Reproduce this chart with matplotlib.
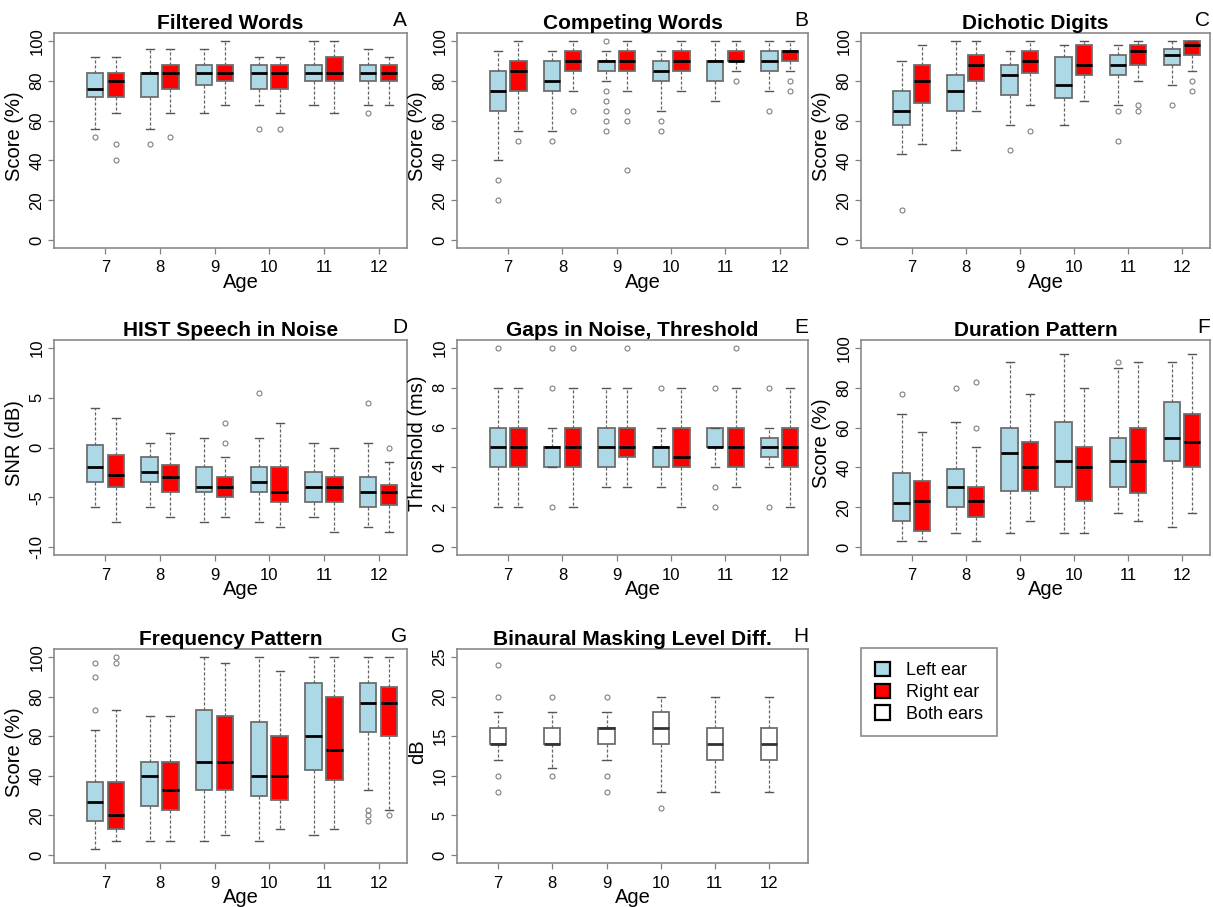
import matplotlib
matplotlib.use("Agg")
import matplotlib.pyplot as plt
from matplotlib.patches import Patch

plt.rcParams['font.family'] = ['Liberation Sans', 'DejaVu Sans']

ages = [7, 8, 9, 10, 11, 12]
age_labels = ["7", "8", "9", "10", "11", "12"]

# stats per age: [lower whisker, Q1, median, Q3, upper whisker]
# A: Filtered Words
fw_left = [[56, 72, 76, 84, 92], [56, 72, 84, 84, 96], [64, 78, 84, 88, 96],
           [68, 76, 84, 88, 92], [68, 80, 84, 88, 100], [68, 80, 84, 88, 96]]
fw_left_out = [[52], [48], [], [56], [], [64]]
fw_right = [[64, 72, 80, 84, 92], [64, 76, 84, 88, 96], [68, 80, 84, 88, 100],
            [64, 76, 84, 88, 92], [64, 80, 84, 92, 100], [68, 80, 84, 88, 92]]
fw_right_out = [[48, 40], [52], [], [56], [], []]

# B: Competing Words
cw_left = [[40, 65, 75, 85, 95], [55, 75, 80, 90, 95], [80, 85, 90, 90, 95],
           [65, 80, 85, 90, 95], [70, 80, 90, 90, 100], [75, 85, 90, 95, 100]]
cw_left_out = [[30, 20], [50], [100, 75, 70, 65, 60, 55], [60, 55], [], [65]]
cw_right = [[55, 75, 85, 90, 100], [75, 85, 90, 95, 100], [75, 85, 90, 95, 100],
            [75, 85, 90, 95, 100], [85, 90, 90, 95, 100], [85, 90, 95, 95, 100]]
cw_right_out = [[50], [65], [65, 60, 35], [], [80], [80, 75]]

# C: Dichotic Digits
dd_left = [[43, 58, 65, 75, 90], [45, 65, 75, 83, 100], [58, 73, 83, 88, 95],
           [58, 71.5, 78, 92, 98], [68, 83, 88, 93, 98], [78, 88, 93, 96, 100]]
dd_left_out = [[15], [], [45], [], [65, 50], [68]]
dd_right = [[48, 69, 80, 88, 98], [65, 80, 88, 93, 100], [68, 84, 90, 95, 100],
            [70, 83, 88, 98, 100], [80, 88, 95, 98, 100], [85, 93, 98, 100, 100]]
dd_right_out = [[], [], [55], [], [68, 65], [80, 75]]

# D: HIST Speech in Noise
hist_left = [[-6, -3.5, -2, 0.25, 4], [-6, -3.5, -2.5, -1, 0.5], [-7.5, -4.5, -4, -2, 1],
             [-7.5, -4.5, -3.5, -2, 1], [-7, -5.5, -4, -2.5, 0.5], [-8, -6, -4.5, -3, 0.5]]
hist_left_out = [[], [], [], [5.5], [], [4.5]]
hist_right = [[-7.5, -4, -2.75, -0.75, 3], [-7, -4.5, -3, -1.75, 1.5], [-7, -5, -4, -3, -1],
              [-8, -5.5, -4.5, -2, 2.5], [-8.5, -5.5, -4, -3, 0], [-8.5, -5.75, -4.5, -3.75, -1.5]]
hist_right_out = [[], [], [2.5, 0.5], [], [], [0]]

# E: Gaps in Noise, Threshold
gin_left = [[2, 4, 5, 6, 8], [4, 4, 5, 5, 6], [3, 4, 5, 6, 8],
            [3, 4, 5, 5, 6], [4, 5, 5, 6, 6], [4, 4.5, 5, 5.5, 6]]
gin_left_out = [[10], [10, 8, 2], [], [8], [8, 3, 2], [8, 2]]
gin_right = [[2, 4, 5, 6, 8], [2, 4, 5, 6, 8], [3, 4.5, 5, 6, 8],
             [2, 4, 4.5, 6, 8], [3, 4, 5, 6, 8], [2, 4, 5, 6, 8]]
gin_right_out = [[], [10], [10], [], [10], []]

# F: Duration Pattern
dp_left = [[3, 13, 22, 37, 67], [7, 20, 30, 39, 63], [7, 28, 47, 60, 93],
           [7, 30, 43, 63, 97], [17, 30, 43, 55, 90], [10, 43, 55, 73, 93]]
dp_left_out = [[77], [80], [], [], [93], []]
dp_right = [[3, 8, 23, 33, 58], [3, 15, 23, 30, 50], [13, 28, 40, 53, 77],
            [7, 23, 40, 50, 80], [13, 27, 43, 60, 93], [17, 40, 53, 67, 97]]
dp_right_out = [[], [60, 83], [], [], [], []]

# G: Frequency Pattern
fp_left = [[3, 17, 27, 37, 63], [7, 25, 40, 47, 70], [7, 33, 47, 73, 100],
           [7, 30, 40, 67, 100], [10, 43, 60, 87, 100], [33, 62, 77, 87, 100]]
fp_left_out = [[97, 90, 73], [], [], [], [], [23, 20, 17]]
fp_right = [[7, 13, 20, 37, 73], [7, 23, 33, 47, 70], [10, 33, 47, 70, 97],
            [13, 28, 40, 60, 93], [13, 38, 53, 80, 100], [23, 60, 77, 85, 100]]
fp_right_out = [[100, 97], [], [], [], [], [20]]

# H: Binaural Masking Level Difference (both ears)
mld_both = [[12, 14, 14, 16, 18], [11, 14, 14, 16, 18], [12, 14, 16, 16, 18],
            [8, 14, 16, 18, 20], [8, 12, 14, 16, 20], [8, 12, 14, 16, 20]]
mld_both_out = [[24, 20, 10, 8], [20, 10], [20, 10, 8], [6], [], []]

LEFT_COLOR = "#ADD8E6"
RIGHT_COLOR = "#FF0000"
EDGE = "#6e6e6e"

W, H = 1213, 907
fig = plt.figure(figsize=(W / 100, H / 100), dpi=100)


def make_axes(x0, x1, y0, y1):
    return fig.add_axes([x0 / W, 1 - y1 / H, (x1 - x0) / W, (y1 - y0) / H])


def to_stats(rows, outs):
    return [dict(whislo=r[0], q1=r[1], med=r[2], q3=r[3], whishi=r[4], fliers=o)
            for r, o in zip(rows, outs)]


def draw_boxes(ax, rows, outs, positions, color, medcolor="black"):
    ax.bxp(to_stats(rows, outs), positions=positions, widths=0.3, capwidths=0.15,
           patch_artist=True, manage_ticks=False,
           boxprops=dict(facecolor=color, edgecolor=EDGE, linewidth=1.3),
           medianprops=dict(color=medcolor, linewidth=2.0, solid_capstyle="butt"),
           whiskerprops=dict(color="#666666", linewidth=0.9, linestyle=(0, (2.5, 1.5))),
           capprops=dict(color="#555555", linewidth=1.0),
           flierprops=dict(marker="o", markerfacecolor="none", markeredgecolor="#808080",
                           markersize=3.6, markeredgewidth=0.8))


def style(ax, title, letter, ylabel, ylim, yticks, xlim, agex=0.53):
    ax.set_xlim(*xlim)
    ax.set_ylim(*ylim)
    ax.set_xticks(ages)
    ax.set_xticklabels(age_labels)
    ax.set_yticks(yticks)
    ax.set_yticklabels([str(v) for v in yticks], rotation=90, va="center")
    ax.tick_params(axis="both", labelsize=12, length=4, width=0.9, color="#808080")
    ax.tick_params(axis="x", pad=5)
    ax.tick_params(axis="y", pad=3)
    for s in ax.spines.values():
        s.set_color("#8a8a8a")
        s.set_linewidth(1.2)
    ax.set_title(title, fontsize=15, fontweight="bold", pad=3)
    ax.text(1.0, 1.012, letter, transform=ax.transAxes, ha="right", va="bottom", fontsize=15)
    ax.set_xlabel("Age", fontsize=14.5)
    ax.xaxis.set_label_coords(agex, -0.115)
    ax.xaxis.label.set_va("top")
    ax.set_ylabel(ylabel, fontsize=14.5)
    ax.yaxis.set_label_coords(-0.112, 0.52)
    ax.yaxis.label.set_va("center")


cols = [(54, 407), (457, 808), (861, 1210)]
rows_y = [(33, 248), (340, 555), (649, 863)]
pairs_xlim = (6.06, 12.52)
left_pos = [a - 0.19 for a in ages]
right_pos = [a + 0.19 for a in ages]

panels = [
    ("Filtered Words", "A", "Score (%)", (-4, 104), [0, 20, 40, 60, 80, 100],
     fw_left, fw_left_out, fw_right, fw_right_out),
    ("Competing Words", "B", "Score (%)", (-4, 104), [0, 20, 40, 60, 80, 100],
     cw_left, cw_left_out, cw_right, cw_right_out),
    ("Dichotic Digits", "C", "Score (%)", (-4, 104), [0, 20, 40, 60, 80, 100],
     dd_left, dd_left_out, dd_right, dd_right_out),
    ("HIST Speech in Noise", "D", "SNR (dB)", (-10.8, 10.8), [-10, -5, 0, 5, 10],
     hist_left, hist_left_out, hist_right, hist_right_out),
    ("Gaps in Noise, Threshold", "E", "Threshold (ms)", (-0.4, 10.4), [0, 2, 4, 6, 8, 10],
     gin_left, gin_left_out, gin_right, gin_right_out),
    ("Duration Pattern", "F", "Score (%)", (-4, 104), [0, 20, 40, 60, 80, 100],
     dp_left, dp_left_out, dp_right, dp_right_out),
    ("Frequency Pattern", "G", "Score (%)", (-4, 104), [0, 20, 40, 60, 80, 100],
     fp_left, fp_left_out, fp_right, fp_right_out),
]

for i, (title, letter, ylab, ylim, yt, lrows, louts, rrows, routs) in enumerate(panels):
    r, c = divmod(i, 3)
    ax = make_axes(cols[c][0], cols[c][1], rows_y[r][0], rows_y[r][1])
    draw_boxes(ax, lrows, louts, left_pos, LEFT_COLOR)
    draw_boxes(ax, rrows, routs, right_pos, RIGHT_COLOR)
    style(ax, title, letter, ylab, ylim, yt, pairs_xlim)

# Panel H
axh = make_axes(cols[1][0], cols[1][1], rows_y[2][0], rows_y[2][1])
draw_boxes(axh, mld_both, mld_both_out, ages, "white", medcolor="#333333")
style(axh, "Binaural Masking Level Diff.", "H", "dB", (-1, 26), [0, 5, 10, 15, 20, 25],
      (6.24, 12.72), agex=0.5)

# Legend
handles = [Patch(facecolor=LEFT_COLOR, edgecolor="black", linewidth=1.6),
           Patch(facecolor=RIGHT_COLOR, edgecolor="black", linewidth=1.6),
           Patch(facecolor="white", edgecolor="black", linewidth=1.6)]
leg = fig.legend(handles, ["Left ear", "Right ear", "Both ears"],
                 loc="upper left", bbox_to_anchor=(861 / W, 1 - 648 / H),
                 frameon=True, fancybox=False, edgecolor="#8a8a8a", framealpha=1,
                 fontsize=13, handlelength=0.85, handleheight=0.85, handletextpad=0.9,
                 labelspacing=0.25, borderpad=0.75, borderaxespad=0)
leg.get_frame().set_linewidth(1.2)

fig.savefig("out.png", dpi=100, facecolor="white")
